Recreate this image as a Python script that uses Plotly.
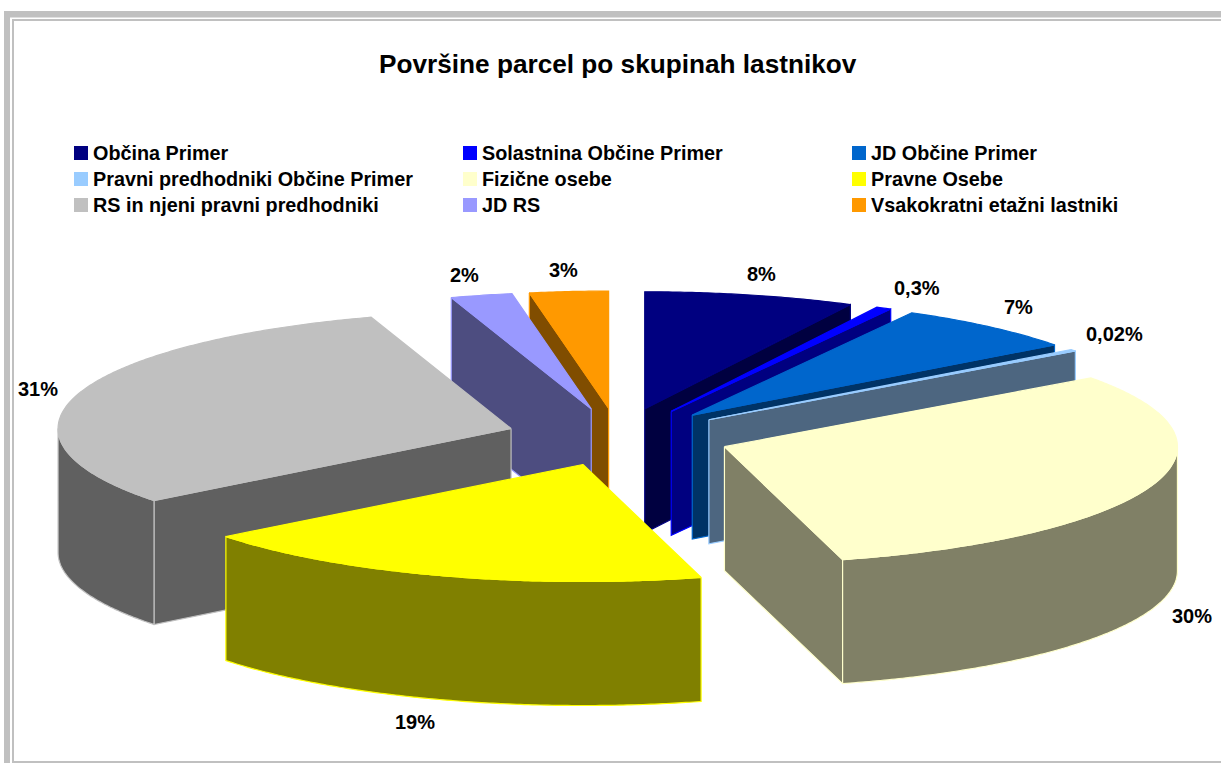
import math
import plotly.graph_objects as go

# ---- data ----
categories = ["Občina Primer", "Solastnina Občine Primer", "JD Občine Primer",
              "Pravni predhodniki Občine Primer", "Fizične osebe", "Pravne Osebe",
              "RS in njeni pravni predhodniki", "JD RS", "Vsakokratni etažni lastniki"]
shares = [7.5, 0.55, 6.7, 0.25, 30.8, 18.65, 30.55, 2.2, 2.8]
value_labels = ["8%", "0,3%", "7%", "0,02%", "30%", "19%", "31%", "2%", "3%"]
title_text = "Površine parcel po skupinah lastnikov"

top_colors = ["#000080", "#0000FF", "#0066CC", "#99CCFF", "#FFFFCC", "#FFFF00",
              "#C0C0C0", "#9999FF", "#FF9900"]
side_colors = ["#000040", "#000080", "#003366", "#4D6680", "#808066", "#808000",
               "#606060", "#4D4D80", "#804D00"]

# ---- projection of the exploded 3-D pie onto the page ----
CX, CY = 618.5, 437.0      # pie centre on the page
RX, RY = 453.0, 117.0      # ellipse radii
DEPTH = 124.0              # height of the extrusion
EXPLODE = 0.248            # slice explosion as a fraction of the radius
PAINT_ORDER = [0, 1, 2, 3, 4, 8, 7, 6, 5]

label_xy = [(761, 274), (917, 288), (1018, 307), (1114, 334), (1192, 616),
            (415, 722), (38, 389), (464, 275), (563, 270)]
legend_cols = [74, 463, 852]
legend_rows = [153, 179, 205]

total = sum(shares)
bounds = [0.0]
for v in shares:
    bounds.append(bounds[-1] + v / total * 360.0)


def pt(theta, ox, oy, z=0.0, r=1.0):
    t = math.radians(theta)
    return ox + RX * r * math.sin(t), oy - RY * r * math.cos(t) + z


def arc(a, b, ox, oy, z=0.0):
    n = max(2, int(abs(b - a) * 2) + 1)
    return [pt(a + (b - a) * i / (n - 1), ox, oy, z) for i in range(n)]


def poly(points, fill, line, width=1.2):
    xs = [p[0] for p in points] + [points[0][0]]
    ys = [p[1] for p in points] + [points[0][1]]
    return go.Scatter(x=xs, y=ys, mode="lines", fill="toself", fillcolor=fill,
                      line=dict(color=line, width=width, simplify=False),
                      hoverinfo="skip", showlegend=False)


fig = go.Figure()

for i in PAINT_ORDER:
    s, e = bounds[i], bounds[i + 1]
    mid = (s + e) / 2
    ox, oy = pt(mid, CX, CY, r=EXPLODE)
    top, side = top_colors[i], side_colors[i]
    # radial faces that turn towards the viewer
    if s > 180:
        p = pt(s, ox, oy)
        fig.add_trace(poly([(ox, oy), p, (p[0], p[1] + DEPTH), (ox, oy + DEPTH)], side, top))
    if e < 180:
        p = pt(e, ox, oy)
        fig.add_trace(poly([(ox, oy), p, (p[0], p[1] + DEPTH), (ox, oy + DEPTH)], side, top))
    # outer wall, front half only
    a, b = max(s, 90.0), min(e, 270.0)
    if b > a:
        upper = arc(a, b, ox, oy)
        lower = arc(b, a, ox, oy, DEPTH)
        fig.add_trace(poly(upper + lower, side, top))
    # top surface
    fig.add_trace(poly([(ox, oy)] + arc(s, e, ox, oy), top, top))

# legend swatches and names, three to a row
swatch_x, swatch_y = [], []
annotations = []
for i, name in enumerate(categories):
    col, row = i % 3, i // 3
    swatch_x.append(legend_cols[col] + 7)
    swatch_y.append(legend_rows[row])
    annotations.append(dict(x=legend_cols[col] + 16.5, y=legend_rows[row], text=f"<b>{name}</b>",
                            xref="x", yref="y", showarrow=False, xanchor="left", yanchor="middle",
                            font=dict(family="Liberation Sans", size=19.8, color="black")))
fig.add_trace(go.Scatter(x=swatch_x, y=swatch_y, mode="markers",
                         marker=dict(symbol="square", size=14, color=top_colors, line=dict(width=0)),
                         hoverinfo="skip", showlegend=False))

for txt, (x, y) in zip(value_labels, label_xy):
    annotations.append(dict(x=x, y=y, text=f"<b>{txt}</b>", xref="x", yref="y", showarrow=False,
                            xanchor="center", yanchor="middle",
                            font=dict(family="Liberation Sans", size=20, color="black")))
annotations.append(dict(x=618, y=64, text=f"<b>{title_text}</b>", xref="x", yref="y", showarrow=False,
                        xanchor="center", yanchor="middle",
                        font=dict(family="Liberation Sans", size=26.2, color="black")))

frame = "#C0C0C0"
shapes = [
    dict(type="rect", xref="x", yref="y", x0=4, x1=10, y0=11, y1=763, fillcolor=frame, line=dict(width=0), layer="below"),
    dict(type="rect", xref="x", yref="y", x0=4, x1=1221, y0=11, y1=17.5, fillcolor=frame, line=dict(width=0), layer="below"),
    dict(type="rect", xref="x", yref="y", x0=12, x1=14, y0=19, y1=763, fillcolor=frame, line=dict(width=0), layer="below"),
    dict(type="rect", xref="x", yref="y", x0=12, x1=1221, y0=19, y1=21, fillcolor=frame, line=dict(width=0), layer="below"),
    dict(type="rect", xref="x", yref="y", x0=12, x1=1221, y0=761, y1=763, fillcolor=frame, line=dict(width=0), layer="below"),
]

fig.update_layout(
    width=1221, height=763, autosize=False,
    margin=dict(l=0, r=0, t=0, b=0),
    paper_bgcolor="white", plot_bgcolor="white",
    showlegend=False, annotations=annotations, shapes=shapes,
    xaxis=dict(range=[0, 1221], visible=False, fixedrange=True),
    yaxis=dict(range=[763, 0], visible=False, fixedrange=True),
)
fig.write_html("out.html", config={"displayModeBar": False},
               post_script="document.body.style.margin='0';document.body.style.overflow='hidden';")
